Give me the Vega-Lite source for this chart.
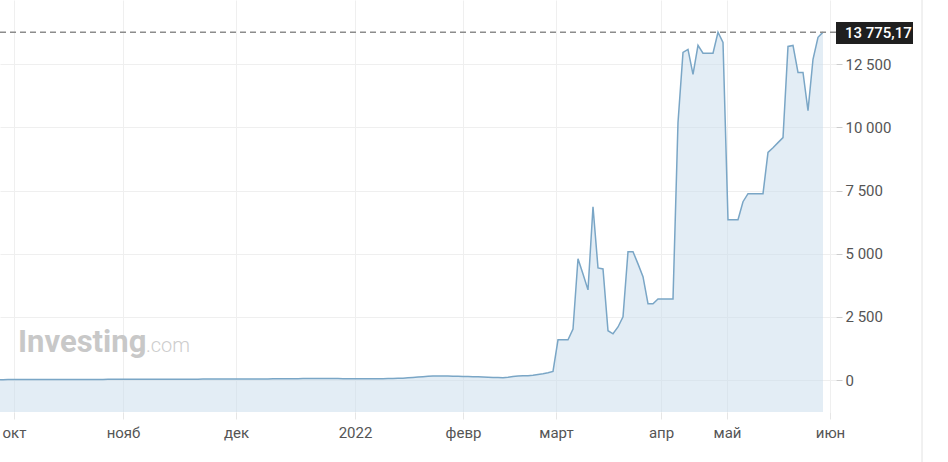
{
  "$schema": "https://vega.github.io/schema/vega-lite/v6.json",
  "width": 836,
  "height": 412,
  "padding": {"left": 0, "top": 0, "right": 112, "bottom": 50},
  "autosize": "none",
  "background": "white",
  "config": {
    "view": {"stroke": null},
    "font": "Roboto",
    "locale": {"number": {"decimal": ",", "thousands": " ", "grouping": [3], "currency": ["", ""]}}
  },
  "datasets": {
    "series": [
      {"n": -1, "v": 14}, {"n": 0, "v": 15}, {"n": 1, "v": 16}, {"n": 2, "v": 16}, {"n": 3, "v": 17}, {"n": 4, "v": 17},
      {"n": 5, "v": 18}, {"n": 6, "v": 18}, {"n": 7, "v": 19}, {"n": 8, "v": 19}, {"n": 9, "v": 20},
      {"n": 10, "v": 20}, {"n": 11, "v": 21}, {"n": 12, "v": 21}, {"n": 13, "v": 22}, {"n": 14, "v": 22},
      {"n": 15, "v": 22}, {"n": 16, "v": 23}, {"n": 17, "v": 23}, {"n": 18, "v": 24}, {"n": 19, "v": 24},
      {"n": 20, "v": 24}, {"n": 21, "v": 25}, {"n": 22, "v": 25}, {"n": 23, "v": 25}, {"n": 24, "v": 26},
      {"n": 25, "v": 26}, {"n": 26, "v": 26}, {"n": 27, "v": 27}, {"n": 28, "v": 27}, {"n": 29, "v": 28},
      {"n": 30, "v": 28}, {"n": 31, "v": 28}, {"n": 32, "v": 29}, {"n": 33, "v": 29}, {"n": 34, "v": 30},
      {"n": 35, "v": 30}, {"n": 36, "v": 31}, {"n": 37, "v": 31}, {"n": 38, "v": 32}, {"n": 39, "v": 34},
      {"n": 40, "v": 35}, {"n": 41, "v": 36}, {"n": 42, "v": 37}, {"n": 43, "v": 38}, {"n": 44, "v": 38},
      {"n": 45, "v": 39}, {"n": 46, "v": 40}, {"n": 47, "v": 40}, {"n": 48, "v": 41}, {"n": 49, "v": 42},
      {"n": 50, "v": 42}, {"n": 51, "v": 43}, {"n": 52, "v": 44}, {"n": 53, "v": 44}, {"n": 54, "v": 45},
      {"n": 55, "v": 46}, {"n": 56, "v": 47}, {"n": 57, "v": 48}, {"n": 58, "v": 50}, {"n": 59, "v": 52},
      {"n": 60, "v": 55}, {"n": 61, "v": 58}, {"n": 62, "v": 60}, {"n": 63, "v": 62}, {"n": 64, "v": 60},
      {"n": 65, "v": 58}, {"n": 66, "v": 56}, {"n": 67, "v": 55}, {"n": 68, "v": 54}, {"n": 69, "v": 52},
      {"n": 70, "v": 50}, {"n": 71, "v": 48}, {"n": 72, "v": 47}, {"n": 73, "v": 46}, {"n": 74, "v": 45},
      {"n": 75, "v": 48}, {"n": 76, "v": 52}, {"n": 77, "v": 56}, {"n": 78, "v": 60}, {"n": 79, "v": 65},
      {"n": 80, "v": 72}, {"n": 81, "v": 85}, {"n": 82, "v": 100}, {"n": 83, "v": 115}, {"n": 84, "v": 130},
      {"n": 85, "v": 145}, {"n": 86, "v": 155}, {"n": 87, "v": 160}, {"n": 88, "v": 158}, {"n": 89, "v": 155},
      {"n": 90, "v": 150}, {"n": 91, "v": 145}, {"n": 92, "v": 140}, {"n": 93, "v": 135}, {"n": 94, "v": 130},
      {"n": 95, "v": 125}, {"n": 96, "v": 118}, {"n": 97, "v": 110}, {"n": 98, "v": 100}, {"n": 99, "v": 95},
      {"n": 100, "v": 90}, {"n": 101, "v": 110}, {"n": 102, "v": 140}, {"n": 103, "v": 160}, {"n": 104, "v": 165},
      {"n": 105, "v": 170}, {"n": 106, "v": 190}, {"n": 107, "v": 220}, {"n": 108, "v": 250}, {"n": 109, "v": 290},
      {"n": 110, "v": 340}, {"n": 111, "v": 1590}, {"n": 112, "v": 1590}, {"n": 113, "v": 1590}, {"n": 114, "v": 2020},
      {"n": 115, "v": 4800}, {"n": 116, "v": 4200}, {"n": 117, "v": 3570}, {"n": 118, "v": 6860}, {"n": 119, "v": 4440},
      {"n": 120, "v": 4400}, {"n": 121, "v": 1950}, {"n": 122, "v": 1830}, {"n": 123, "v": 2100}, {"n": 124, "v": 2500},
      {"n": 125, "v": 5080}, {"n": 126, "v": 5080}, {"n": 127, "v": 4600}, {"n": 128, "v": 4090}, {"n": 129, "v": 3020},
      {"n": 130, "v": 3020}, {"n": 131, "v": 3210}, {"n": 132, "v": 3210}, {"n": 133, "v": 3210}, {"n": 134, "v": 3210},
      {"n": 135, "v": 10200}, {"n": 136, "v": 12975}, {"n": 137, "v": 13090}, {"n": 138, "v": 12100}, {"n": 139, "v": 13250},
      {"n": 140, "v": 12940}, {"n": 141, "v": 12940}, {"n": 142, "v": 12940}, {"n": 143, "v": 13770}, {"n": 144, "v": 13370},
      {"n": 145, "v": 6350}, {"n": 146, "v": 6350}, {"n": 147, "v": 6350}, {"n": 148, "v": 7060}, {"n": 149, "v": 7380},
      {"n": 150, "v": 7380}, {"n": 151, "v": 7380}, {"n": 152, "v": 7380}, {"n": 153, "v": 9010}, {"n": 154, "v": 9200},
      {"n": 155, "v": 9400}, {"n": 156, "v": 9600}, {"n": 157, "v": 13210}, {"n": 158, "v": 13250}, {"n": 159, "v": 12180},
      {"n": 160, "v": 12180}, {"n": 161, "v": 10670}, {"n": 162, "v": 12700}, {"n": 163, "v": 13570}, {"n": 164, "v": 13775.17}
    ],
    "last": [{"v": 13775.17}],
    "brand": [{"a": "Investing", "b": ".com"}]
  },
  "layer": [
    {
      "data": {"name": "series"},
      "mark": {"type": "area", "color": "#c7dbec", "opacity": 0.5, "clip": true},
      "encoding": {
        "x": {
          "field": "n", "type": "quantitative",
          "scale": {"domain": [-0.6, 166.6], "nice": false, "zero": false},
          "axis": {
            "title": null,
            "values": [2.2, 24, 46.6, 70.4, 92, 110.6, 131.6, 144.8, 165.4],
            "labelExpr": "datum.value < 10 ? 'окт' : datum.value < 30 ? 'нояб' : datum.value < 50 ? 'дек' : datum.value < 80 ? '2022' : datum.value < 100 ? 'февр' : datum.value < 120 ? 'март' : datum.value < 140 ? 'апр' : datum.value < 150 ? 'май' : 'июн'",
            "domain": false, "grid": true, "gridColor": "#efefef",
            "tickColor": "#e6e6e6", "tickSize": 7, "labelPadding": 6,
            "labelFontSize": 15, "labelColor": "#555555", "labelFlush": false, "labelOverlap": false
          }
        },
        "y": {
          "field": "v", "type": "quantitative",
          "scale": {"domain": [-1267, 15048], "nice": false, "zero": false},
          "axis": {
            "title": null, "orient": "right",
            "values": [0, 2500, 5000, 7500, 10000, 12500],
            "format": ",.0f",
            "domain": false, "grid": true, "gridColor": "#efefef",
            "tickColor": "#cccccc", "tickSize": 6, "labelPadding": 3,
            "labelFontSize": 15, "labelColor": "#555555"
          }
        },
        "y2": {"datum": -1267}
      }
    },
    {
      "data": {"name": "series"},
      "mark": {"type": "line", "color": "#7aa6c6", "strokeWidth": 1.5, "clip": true},
      "encoding": {
        "x": {"field": "n", "type": "quantitative"},
        "y": {"field": "v", "type": "quantitative"}
      }
    },
    {
      "data": {"name": "last"},
      "mark": {"type": "rule", "color": "#8c8c8c", "strokeDash": [6, 4], "strokeWidth": 1.5},
      "encoding": {"y": {"field": "v", "type": "quantitative"}}
    },
    {
      "data": {"name": "last"},
      "mark": {"type": "rect", "color": "#1f1f1f"},
      "encoding": {
        "x": {"datum": 166.6}, "x2": {"datum": 182},
        "y": {"datum": 14177}, "y2": {"datum": 13306}
      }
    },
    {
      "data": {"name": "last"},
      "mark": {"type": "text", "color": "white", "fontSize": 15, "fontWeight": 500, "align": "left", "baseline": "middle"},
      "encoding": {
        "x": {"datum": 168.4},
        "y": {"datum": 13741},
        "text": {"field": "v", "type": "quantitative", "format": ",.2f"}
      }
    },
    {
      "data": {"name": "brand"},
      "mark": {"type": "text", "color": "#c8c8c8", "fontSize": 31, "fontWeight": "bold", "align": "left", "baseline": "alphabetic"},
      "encoding": {
        "x": {"datum": 3}, "y": {"datum": 1109},
        "text": {"field": "a"}
      }
    },
    {
      "data": {"name": "brand"},
      "mark": {"type": "text", "color": "#cdcdcd", "fontSize": 20, "fontWeight": 300, "align": "left", "baseline": "alphabetic"},
      "encoding": {
        "x": {"datum": 28.6}, "y": {"datum": 1109},
        "text": {"field": "b"}
      }
    },
    {
      "data": {"name": "last"},
      "mark": {"type": "rule", "color": "#e2e2e2", "strokeWidth": 1},
      "encoding": {
        "x": {"datum": 183.8},
        "y": {"datum": 15048}, "y2": {"datum": -3247}
      }
    }
  ]
}
